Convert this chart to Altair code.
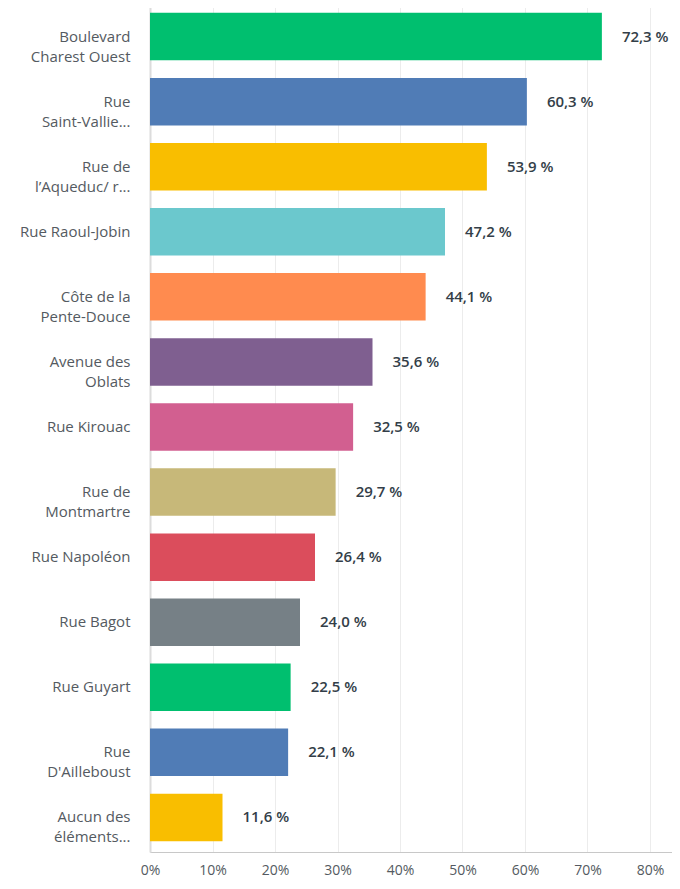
import altair as alt
import pandas as pd

categories = [
    "Boulevard|Charest Ouest",
    "Rue|Saint-Vallie...",
    "Rue de|l’Aqueduc/ r...",
    "Rue Raoul-Jobin",
    "Côte de la|Pente-Douce",
    "Avenue des|Oblats",
    "Rue Kirouac",
    "Rue de|Montmartre",
    "Rue Napoléon",
    "Rue Bagot",
    "Rue Guyart",
    "Rue|D'Ailleboust",
    "Aucun des|éléments...",
]
values = [72.3, 60.3, 53.9, 47.2, 44.1, 35.6, 32.5, 29.7, 26.4, 24.0, 22.5, 22.1, 11.6]
colors = ["#00BF6F", "#507CB6", "#F9BE00", "#6BC8CD", "#FF8B4F", "#7F5F90",
          "#D25F90", "#C7B879", "#DB4D5C", "#768086", "#00BF6F", "#507CB6", "#F9BE00"]

df = pd.DataFrame({
    "cat": categories,
    "val": [v / 100 for v in values],
    "label": [f"{v:.1f}".replace(".", ",") + " %" for v in values],
    "color": colors,
})

FONT = "Open Sans"

y_enc = alt.Y(
    "cat:N", sort=categories, title=None,
    scale=alt.Scale(paddingInner=0.27, paddingOuter=0.167),
    axis=alt.Axis(
        labelExpr="split(datum.label, '|')",
        labelFontSize=15, labelColor="#545a61", labelFont=FONT,
        labelPadding=20, ticks=False, domain=True, domainColor="#dcdcdc",
        domainWidth=2, labelLimit=140, labelLineHeight=20,
    ),
)
x_enc = alt.X(
    "val:Q", title=None,
    scale=alt.Scale(domain=[0, 0.8352], nice=False),
    axis=alt.Axis(
        format=".0%", values=[0, 0.1, 0.2, 0.3, 0.4, 0.5, 0.6, 0.7, 0.8],
        labelFontSize=14, labelColor="#545a61", labelFont=FONT,
        labelPadding=11, labelFlush=False, ticks=False,
        domainColor="#c8c8c8", domainWidth=1,
        grid=True, gridColor="#ececec", gridWidth=1,
    ),
)

bars = alt.Chart(df).mark_bar().encode(
    x=x_enc, y=y_enc, color=alt.Color("color:N", scale=None)
)
texts = alt.Chart(df).mark_text(
    align="left", baseline="middle", dx=20, fontSize=15, fontWeight=600,
    color="#333e48", font=FONT,
).encode(x="val:Q", y=alt.Y("cat:N", sort=categories), text="label:N")

chart = (bars + texts).properties(
    width=522, height=850,
    autosize=alt.AutoSizeParams(type="none"),
    padding={"left": 142, "top": -6, "right": 0, "bottom": 29},
).configure_view(stroke=None).configure(font=FONT)

chart.save("out.html", embed_options={"renderer": "svg", "actions": False})
